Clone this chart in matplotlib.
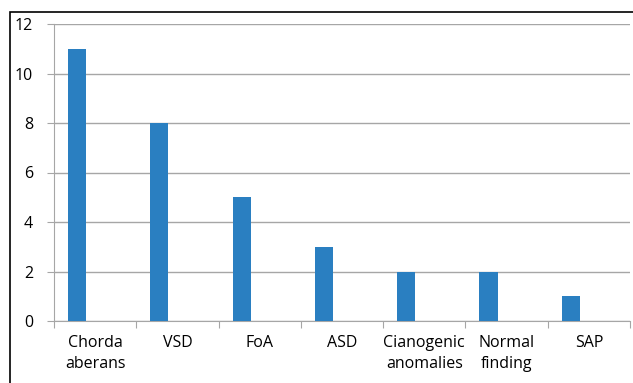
import matplotlib.pyplot as plt
import numpy as np
from matplotlib.patches import Rectangle

categories = ['Chorda\naberans', 'VSD', 'FoA', 'ASD', 'Cianogenic\nanomalies', 'Normal\nfinding', 'SAP']
values = [11, 8, 5, 3, 2, 2, 1]

plt.rcParams['font.family'] = ['Open Sans', 'DejaVu Sans']

fig = plt.figure(figsize=(6.33, 3.83), dpi=100)
ax = fig.add_axes([54/633, 1 - 321/383, 576/633, 297/383])

x = np.arange(len(categories))
ax.bar(x - 0.22, values, width=0.22, color='#2a7fc1', zorder=3)

ax.set_xlim(-0.5, len(categories) - 0.5)
ax.set_ylim(0, 12)
ax.set_yticks(range(0, 13, 2))
ax.yaxis.grid(True, color='#a6a6a6', linewidth=1)
ax.set_axisbelow(True)

# category ticks between the groups, labels in the middle
ax.set_xticks(np.arange(-0.5, len(categories)), minor=False)
ax.set_xticklabels([])
ax.set_xticks(x, minor=True)
ax.set_xticklabels(categories, minor=True, fontsize=11.5, linespacing=1.4)
ax.tick_params(axis='x', which='major', length=5, color='#a6a6a6')
ax.tick_params(axis='x', which='minor', length=0, pad=10)
ax.tick_params(axis='y', length=5, color='#a6a6a6', labelsize=11.5, pad=10)
for lab in ax.get_xticklabels(minor=True):
    lab.set_verticalalignment('top')

for s in ['top', 'right']:
    ax.spines[s].set_visible(False)
for s in ['left', 'bottom']:
    ax.spines[s].set_color('#a6a6a6')

# chart border (only top and left visible in the crop)
fig.patches.append(Rectangle((10/633, -0.2), 1.2, 1 - 12/383 + 0.2,
                             transform=fig.transFigure, fill=False,
                             edgecolor='black', linewidth=1.2))

plt.savefig('out.png', dpi=100)
